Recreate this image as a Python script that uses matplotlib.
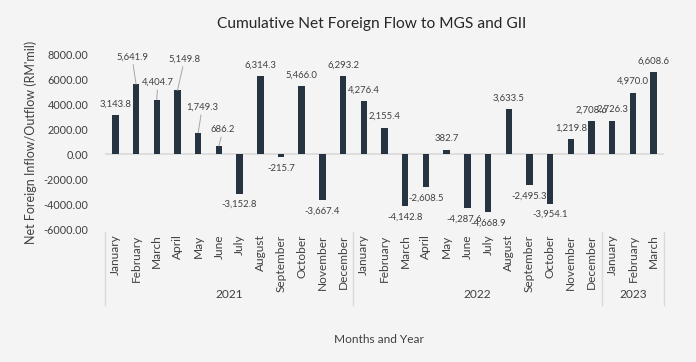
import matplotlib.pyplot as plt
import matplotlib.transforms as mtransforms

plt.rcParams['font.family'] = ['Lato', 'DejaVu Sans']

months = ["January", "February", "March", "April", "May", "June", "July",
          "August", "September", "October", "November", "December",
          "January", "February", "March", "April", "May", "June", "July",
          "August", "September", "October", "November", "December",
          "January", "February", "March"]
years = ["2021", "2022", "2023"]
year_counts = [12, 12, 3]
flows = [3143.8, 5641.9, 4404.7, 5149.8, 1749.3, 686.2, -3152.8, 6314.3,
         -215.7, 5466.0, -3667.4, 6293.2,
         4276.4, 2155.4, -4142.8, -2608.5, 382.7, -4287.6, -4668.9, 3633.5,
         -2495.3, -3954.1, 1219.8, 2708.6,
         2726.3, 4970.0, 6608.6]
yticks = [-6000, -4000, -2000, 0, 2000, 4000, 6000, 8000]

# label offsets in pixels for the labels that were moved by hand (with leader lines)
moved = {1: (-4, 27), 2: (1, 17), 3: (7, 31), 4: (4, 25), 5: (4, 16), 17: (-3, -11)}

bg = "#f4f4f4"
bar_color = "#263442"
text_color = "#404040"

fig = plt.figure(figsize=(6.96, 3.62), dpi=100, facecolor=bg)
ax = fig.add_axes([0.1509, 0.3674, 0.8031, 0.4807], facecolor=bg)

x = list(range(len(flows)))
ax.bar(x, flows, width=0.31, color=bar_color, zorder=3)
ax.axhline(0, color="#d9d9d9", lw=1.2, zorder=2)

for i, v in enumerate(flows):
    label = f"{v:,.1f}"
    if i in moved:
        dx, dy = moved[i]
        arrow = dict(arrowstyle='-', color='#a6a6a6', lw=0.7, shrinkA=0, shrinkB=0) if i != 17 else None
    else:
        dx, dy = 0, (11 if v >= 0 else -11)
        arrow = None
    ax.annotate(label, (i, v), xytext=(dx, dy), textcoords='offset pixels',
                ha='center', va='center', fontsize=6.8, color=text_color,
                arrowprops=arrow, zorder=4)

ax.set_xlim(-0.5, len(flows) - 0.5)
ax.set_ylim(-6000, 8000)
ax.set_yticks(yticks)
ax.set_yticklabels([f"{t:.2f}" for t in yticks], fontsize=7.8, color=text_color)
ax.set_xticks(x)
ax.set_xticklabels(months, rotation=90, fontsize=8.6, color=text_color)
ax.tick_params(axis='both', length=0)
ax.tick_params(axis='x', pad=4)
ax.tick_params(axis='y', pad=12)
for s in ax.spines.values():
    s.set_visible(False)

# year level of the category axis
trans = mtransforms.blended_transform_factory(ax.transData, ax.transAxes)
start = 0
bounds = [-0.5]
for yr, n in zip(years, year_counts):
    centre = start + (n - 1) / 2
    ax.text(centre, -0.375, yr, transform=trans, ha='center', va='center',
            fontsize=8.6, color=text_color)
    start += n
    bounds.append(start - 0.5)
for b in bounds:
    ax.plot([b, b], [-0.017, -0.437], transform=trans, color="#d9d9d9",
            lw=1, clip_on=False)

ax.set_ylabel("Net Foreign Inflow/Outflow (RM'mil)", fontsize=9, color=text_color, labelpad=5)
fig.text(0.545, 0.063, "Months and Year", ha='center', va='center', fontsize=8.6, color=text_color)
fig.text(0.534, 0.934, "Cumulative Net Foreign Flow to MGS and GII", ha='center', va='center',
         fontsize=11.2, color="#262626")

fig.savefig("out.png", dpi=100, facecolor=bg)
